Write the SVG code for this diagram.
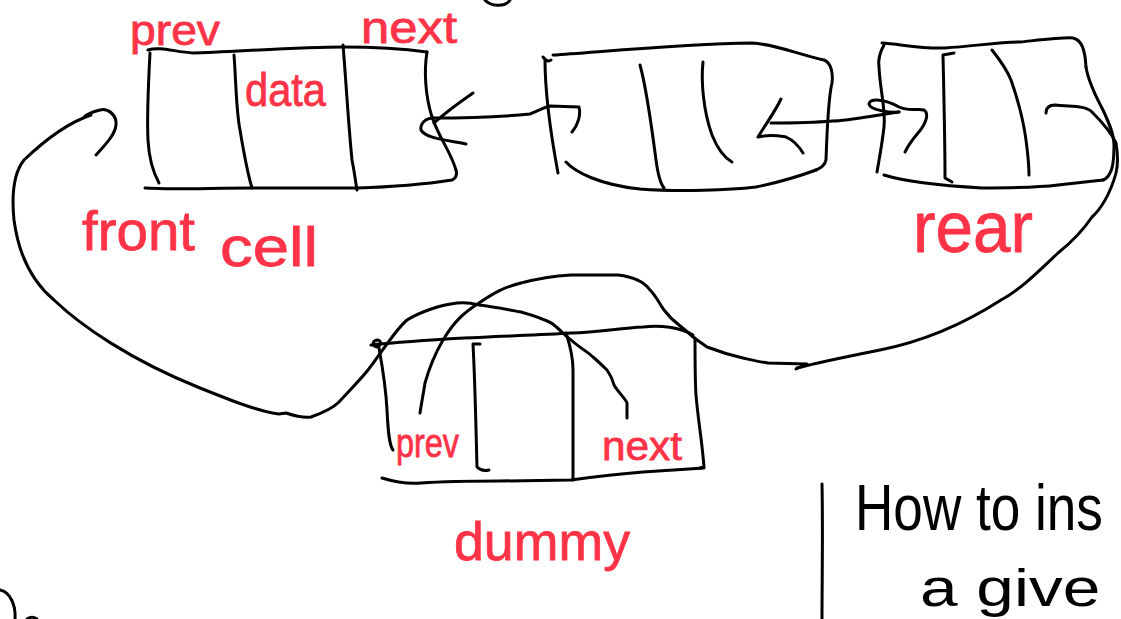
<svg xmlns="http://www.w3.org/2000/svg" width="1121" height="619" viewBox="0 0 1121 619">
<style>
.ink{fill:none;stroke:#000;stroke-width:3;stroke-linecap:round;stroke-linejoin:round}
.lbl{fill:#ff3347;stroke:#ff3347;stroke-width:0.8;font-family:"Liberation Sans","DejaVu Sans",sans-serif}
.note{fill:#000;font-family:"Liberation Sans","DejaVu Sans",sans-serif}
</style>
<rect width="1121" height="619" fill="#fff"/>
<g id="node-front">
<path class="ink" d="M148,50 C160,46 175,52 193,53 C230,52 300,47 343,47 C380,47 405,49 427,52"/>
<path class="ink" d="M150,53 C148,90 147,120 148,140 C149,160 153,172 159,183"/>
<path class="ink" d="M145,188 C170,190 210,188 254,188 L357,188 C390,187 420,185 452,180 C457,178 457,174 456,170"/>
<path class="ink" d="M427,52 C424,70 425,95 432,117 C440,140 450,150 456,170"/>
<path class="ink" d="M234,55 C236,80 236,110 240,130 C245,160 248,175 252,188"/>
<path class="ink" d="M343,45 C346,80 348,120 352,160 C355,175 356,185 357,190"/>
<text class="lbl" x="130" y="45" font-size="42" textLength="90" lengthAdjust="spacingAndGlyphs">prev</text>
<text class="lbl" x="361" y="43" font-size="44" textLength="96" lengthAdjust="spacingAndGlyphs">next</text>
<text class="lbl" x="245" y="106" font-size="46" textLength="81" lengthAdjust="spacingAndGlyphs">data</text>
<text class="lbl" x="82" y="250" font-size="56" textLength="113" lengthAdjust="spacingAndGlyphs">front</text>
<text class="lbl" x="220" y="266" font-size="56" textLength="98" lengthAdjust="spacingAndGlyphs">cell</text>
</g>
<g id="node-middle">
<path class="ink" d="M543,57 C546,61 549,62 551,60 M545,60 C545,90 550,130 558,173"/>
<path class="ink" d="M553,55 C600,52 680,44 752,43 C775,44 800,55 824,60 C832,63 833,75 832,83 C829,95 827,130 826,160 C825,165 821,168 816,170"/>
<path class="ink" d="M566,162 C575,172 600,185 640,189 C680,192 730,190 756,187 C780,182 800,176 816,170"/>
<path class="ink" d="M640,65 C647,90 652,130 656,160 C658,175 660,183 664,188"/>
<path class="ink" d="M703,62 C701,80 703,110 712,135 C718,150 725,158 732,162"/>
</g>
<g id="node-rear">
<path class="ink" d="M882,43 C900,44 920,49 945,48 C975,46 1000,42 1020,42 C1040,40 1065,37 1073,38 C1082,40 1085,50 1086,67"/>
<path class="ink" d="M1086,67 C1088,80 1095,95 1103,110 C1110,125 1114,135 1114,145 C1114,160 1113,168 1110,173 C1108,177 1106,179 1103,180"/>
<path class="ink" d="M884,175 C900,180 930,185 982,188 C1020,188 1050,186 1058,185 L1103,180"/>
<path class="ink" d="M884,45 C880,52 878,60 879,67 C880,90 886,110 884,127 C882,145 879,160 877,172"/>
<path class="ink" d="M954,53 L943,55 C944,100 945,140 945,178 L952,182"/>
<path class="ink" d="M992,50 C1000,60 1007,70 1011,80 C1018,100 1024,125 1026,140 C1028,155 1029,165 1029,175"/>
<text class="lbl" x="913" y="252" font-size="72" textLength="120" lengthAdjust="spacingAndGlyphs">rear</text>
</g>
<g id="node-dummy">
<path class="ink" d="M377,347 C372,346 372,341 377,340 C381,340 382,345 378,346 M371,345 C400,342 430,340 464,338 C500,336 540,335 571,333 C600,332 620,328 643,327 C660,325 680,327 693,335"/>
<path class="ink" d="M379,348 C383,370 386,390 387,410 C388,430 389,445 393,450"/>
<path class="ink" d="M695,338 C695,360 695,380 696,395 C698,420 702,440 704,467 L700,468"/>
<path class="ink" d="M382,478 C395,482 410,484 421,483 C450,481 480,481 500,481 L571,480 C600,476 630,473 643,472 L704,468"/>
<path class="ink" d="M480,344 L473,344 C475,380 476,430 477,467 C480,470 485,471 489,470"/>
<path class="ink" d="M566,333 C570,345 573,360 573,370 L573,480"/>
<text class="lbl" x="396" y="457" font-size="40" textLength="63" lengthAdjust="spacingAndGlyphs">prev</text>
<text class="lbl" x="602" y="460" font-size="40" textLength="80" lengthAdjust="spacingAndGlyphs">next</text>
<text class="lbl" x="454" y="560" font-size="54" textLength="176" lengthAdjust="spacingAndGlyphs">dummy</text>
</g>
<g id="connectors">
<path class="ink" d="M432,118 C470,118 510,116 530,114 C540,110 545,107 550,106 L579,107 C581,115 578,125 572,132"/>
<path class="ink" d="M473,93 C460,102 445,113 434,123 M434,118 C425,118 420,124 421,130 C425,138 445,140 466,144"/>
<path class="ink" d="M899,112 C870,116 850,121 832,121 C810,123 790,123 771,123"/>
<path class="ink" d="M781,99 C775,112 765,125 758,137 C770,134 780,136 786,137 C795,141 800,148 803,153"/>
<path class="ink" d="M899,112 C890,113 870,110 869,104 C870,98 885,99 899,107 C910,112 918,108 924,110 C930,114 925,125 918,133 C912,140 908,146 905,152"/>
<path class="ink" d="M1046,113 C1046,108 1049,105 1055,105 C1070,107 1085,105 1092,112 C1100,120 1110,130 1116,143 C1118,155 1118,165 1116,173 C1110,195 1100,210 1092,217 C1080,235 1068,245 1058,253 C1040,270 1020,290 1001,300 C970,320 930,340 880,350 C850,356 820,362 797,368"/>
<path class="ink" d="M96,155 C105,145 115,135 116,125 C117,115 108,108 100,110 C92,112 88,114 85,116"/>
<path class="ink" d="M91,115 C70,122 45,140 24,160 C12,175 12,200 14,220 C18,250 30,280 54,300 C80,325 130,360 200,388 C230,400 260,412 279,414 L286,413 C295,416 305,418 311,417 C325,412 335,406 339,402 C350,390 360,380 368,370 C380,355 395,330 407,320 C420,312 440,305 457,303 C470,302 475,304 479,305 C495,307 510,310 521,312 C535,316 548,320 554,325 C560,330 566,336 571,340 C580,348 588,352 593,357 C600,363 605,368 607,370 C612,377 613,381 614,385 C618,392 625,398 627,403 L627,418"/>
<path class="ink" d="M420,413 C422,400 424,390 425,383 C430,365 436,352 443,340 C455,320 465,312 479,303 C495,292 505,287 521,283 C540,278 555,276 571,275 L618,275 C635,277 645,283 650,290 C657,297 660,305 664,310 C670,318 675,322 679,325 C685,330 690,334 693,337 C698,341 703,344 707,347 C720,352 730,355 743,358 C752,360 760,362 768,363 L807,364 L796,369"/>
</g>
<g id="notes">
<path class="ink" d="M822,484 C823,530 822,580 822,619"/>
<text class="note" font-size="64" transform="translate(855,530) scale(0.83,1)">How to ins</text>
<text class="note" font-size="52" transform="translate(920,606) scale(1.3,1)">a give</text>
<path class="ink" d="M485,0 C490,6 505,8 510,0"/>
<path class="ink" d="M0,590 C10,592 16,605 15,619 M27,619 C30,617 34,617 37,619"/>
</g>
</svg>
